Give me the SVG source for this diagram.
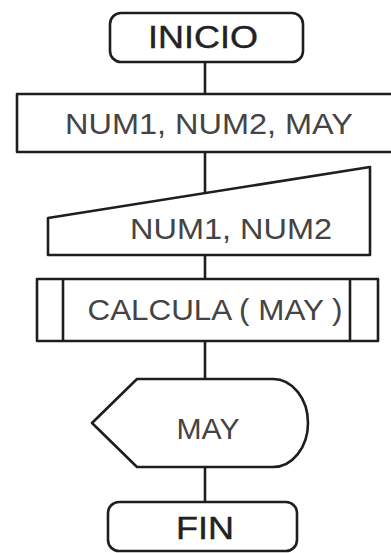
<svg xmlns="http://www.w3.org/2000/svg" width="391" height="553" viewBox="0 0 391 553">
  <style>
    .shape { fill: #ffffff; stroke: #1e1e1e; stroke-width: 2.6; stroke-linejoin: round; }
    .line { fill: none; stroke: #1e1e1e; stroke-width: 2.6; }
    .label { font-family: "Liberation Sans", Arial, sans-serif; font-size: 30px; fill: #444444; text-anchor: middle; }
    .term { font-family: "Liberation Sans", Arial, sans-serif; font-size: 31px; fill: #222222; stroke: #222222; stroke-width: 0.4; text-anchor: middle; }
  </style>
  <rect width="391" height="553" fill="#ffffff"/>

  <!-- flow lines -->
  <g id="connectors">
    <line class="line" x1="205" y1="62" x2="205" y2="94"/>
    <line class="line" x1="205" y1="152" x2="205" y2="193"/>
    <line class="line" x1="205" y1="255" x2="205" y2="279"/>
    <line class="line" x1="205" y1="341" x2="205" y2="379"/>
    <line class="line" x1="205" y1="467" x2="205" y2="502"/>
  </g>

  <!-- start terminal -->
  <g id="inicio">
    <rect class="shape" x="110" y="13" width="193" height="49" rx="11"/>
    <text class="term" x="203" y="48" textLength="110" lengthAdjust="spacingAndGlyphs">INICIO</text>
  </g>

  <!-- variable declaration -->
  <g id="variables">
    <rect class="shape" x="17" y="94" width="380" height="58"/>
    <text class="label" x="209" y="134" textLength="288" lengthAdjust="spacingAndGlyphs">NUM1, NUM2, MAY</text>
  </g>

  <!-- manual input -->
  <g id="entrada">
    <path class="shape" d="M48,218 L370,167 L370,255 L48,255 Z"/>
    <text class="label" x="231" y="239" textLength="202" lengthAdjust="spacingAndGlyphs">NUM1, NUM2</text>
  </g>

  <!-- predefined process -->
  <g id="calcula">
    <rect class="shape" x="37" y="279" width="341" height="62"/>
    <line class="line" x1="63" y1="279" x2="63" y2="341"/>
    <line class="line" x1="350" y1="279" x2="350" y2="341"/>
    <text class="label" x="215" y="320" textLength="255" lengthAdjust="spacingAndGlyphs">CALCULA ( MAY )</text>
  </g>

  <!-- display output -->
  <g id="salida">
    <path class="shape" d="M137,379 L273,379 A35,44 0 0 1 273,467 L137,467 L92,423 Z"/>
    <text class="label" x="208" y="439" textLength="63" lengthAdjust="spacingAndGlyphs">MAY</text>
  </g>

  <!-- end terminal -->
  <g id="fin">
    <rect class="shape" x="108" y="502" width="189" height="49" rx="11"/>
    <text class="term" x="205" y="539" textLength="58" lengthAdjust="spacingAndGlyphs">FIN</text>
  </g>
</svg>
